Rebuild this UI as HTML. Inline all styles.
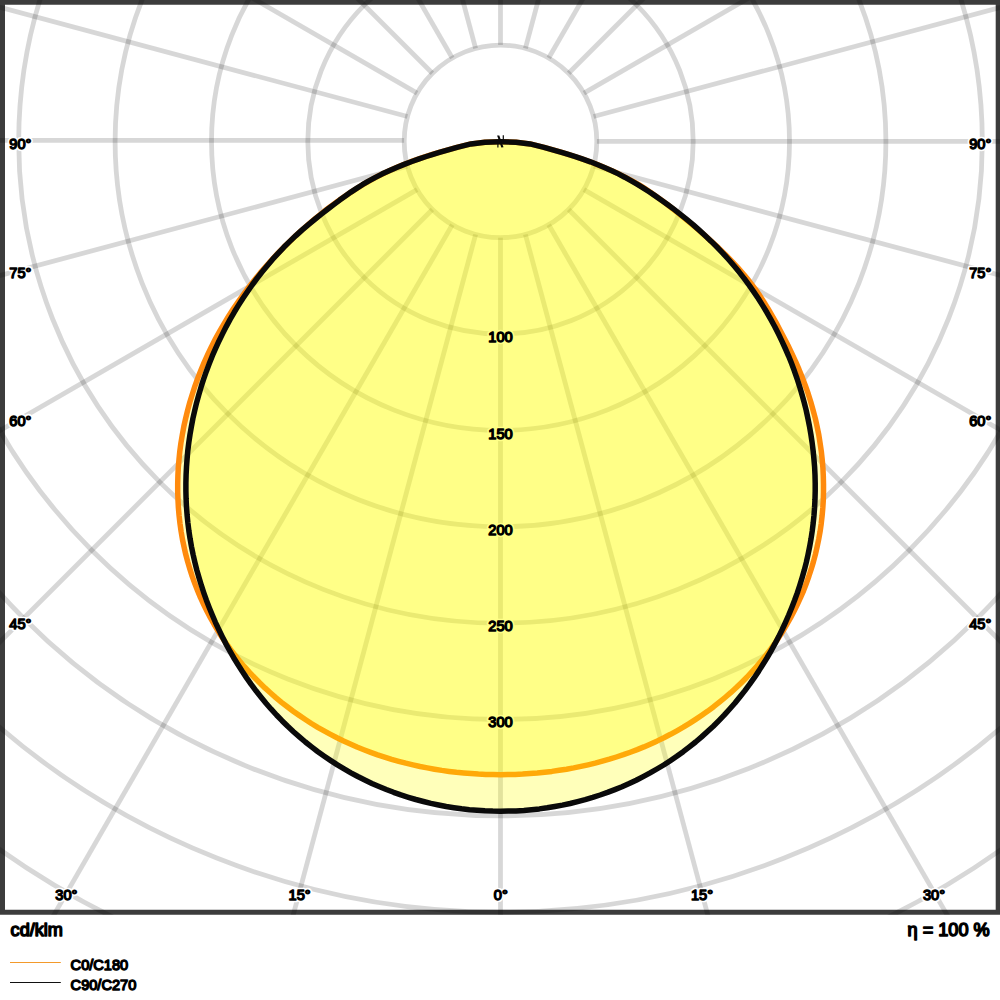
<!DOCTYPE html>
<html><head><meta charset="utf-8"><title>Polar</title>
<style>
html,body{margin:0;padding:0;background:#fff;}
body{width:1000px;height:1000px;overflow:hidden;font-family:"Liberation Sans",sans-serif;}
svg{display:block}
text{font-family:"Liberation Sans",sans-serif}
g.txt text{fill:#000;stroke:#000;stroke-linejoin:round}
g.txt .a text{stroke-width:1.35}
g.txt .b text{stroke-width:1.5}
g.halo text{fill:#fff;stroke:#fff;stroke-linejoin:round;stroke-width:4.6}
.g circle,.g line{fill:none;stroke:#000;stroke-opacity:0.155;stroke-width:4.8}
</style></head><body>
<svg width="1000" height="1000" viewBox="0 0 1000 1000">
<defs><clipPath id="c"><rect x="0" y="0" width="1000" height="914.8"/></clipPath></defs>
<rect width="1000" height="1000" fill="#fff"/>
<path d="M0,0H1000V914.8H0Z M5,4.7V909.8H995.7V4.7Z" fill="#3c3c3c" fill-rule="evenodd"/>
<g clip-path="url(#c)">
<g class="g">
<circle cx="500.5" cy="141.4" r="96.3"/>
<circle cx="500.5" cy="141.4" r="192.7"/>
<circle cx="500.5" cy="141.4" r="289.0"/>
<circle cx="500.5" cy="141.4" r="385.4"/>
<circle cx="500.5" cy="141.4" r="481.8"/>
<circle cx="500.5" cy="141.4" r="578.1"/>
<circle cx="500.5" cy="141.4" r="674.4"/>
<circle cx="500.5" cy="141.4" r="770.8"/>
<circle cx="500.5" cy="141.4" r="867.1"/>
<circle cx="500.5" cy="141.4" r="963.5"/>
<line x1="500.5" y1="237.8" x2="500.5" y2="1241.4"/>
<line x1="525.4" y1="234.5" x2="785.2" y2="1203.9"/>
<line x1="548.7" y1="224.8" x2="1050.5" y2="1094.0"/>
<line x1="568.6" y1="209.5" x2="1278.3" y2="919.2"/>
<line x1="583.9" y1="189.6" x2="1453.1" y2="691.4"/>
<line x1="593.6" y1="166.3" x2="1563.0" y2="426.1"/>
<line x1="596.9" y1="141.4" x2="1600.5" y2="141.4"/>
<line x1="593.6" y1="116.5" x2="1563.0" y2="-143.3"/>
<line x1="583.9" y1="93.2" x2="1453.1" y2="-408.6"/>
<line x1="568.6" y1="73.3" x2="1278.3" y2="-636.4"/>
<line x1="548.7" y1="58.0" x2="1050.5" y2="-811.2"/>
<line x1="525.4" y1="48.3" x2="785.2" y2="-921.1"/>
<line x1="500.5" y1="45.1" x2="500.5" y2="-958.6"/>
<line x1="475.6" y1="48.3" x2="215.8" y2="-921.1"/>
<line x1="452.3" y1="58.0" x2="-49.5" y2="-811.2"/>
<line x1="432.4" y1="73.3" x2="-277.3" y2="-636.4"/>
<line x1="417.1" y1="93.2" x2="-452.1" y2="-408.6"/>
<line x1="407.4" y1="116.5" x2="-562.0" y2="-143.3"/>
<line x1="404.1" y1="140.4" x2="-599.5" y2="140.4"/>
<line x1="407.4" y1="166.3" x2="-562.0" y2="426.1"/>
<line x1="417.1" y1="189.6" x2="-452.1" y2="691.4"/>
<line x1="432.4" y1="209.5" x2="-277.3" y2="919.2"/>
<line x1="452.3" y1="224.8" x2="-49.5" y2="1094.0"/>
<line x1="475.6" y1="234.5" x2="215.8" y2="1203.9"/>
</g>
<g class="halo">
<g class="a"><text x="9.3" y="149.2" text-anchor="start" font-size="14.6">90°</text></g>
<g class="a"><text x="991.3" y="149.2" text-anchor="end" font-size="14.6">90°</text></g>
<g class="a"><text x="9.3" y="278.2" text-anchor="start" font-size="14.6">75°</text></g>
<g class="a"><text x="991.3" y="278.2" text-anchor="end" font-size="14.6">75°</text></g>
<g class="a"><text x="9.3" y="426.2" text-anchor="start" font-size="14.6">60°</text></g>
<g class="a"><text x="991.3" y="426.2" text-anchor="end" font-size="14.6">60°</text></g>
<g class="a"><text x="9.3" y="629.2" text-anchor="start" font-size="14.6">45°</text></g>
<g class="a"><text x="991.3" y="629.2" text-anchor="end" font-size="14.6">45°</text></g>
<g class="a"><text x="66.4" y="900.3" text-anchor="middle" font-size="14.6">30°</text></g>
<g class="a"><text x="299.6" y="900.3" text-anchor="middle" font-size="14.6">15°</text></g>
<g class="a"><text x="500.8" y="900.3" text-anchor="middle" font-size="14.6">0°</text></g>
<g class="a"><text x="702" y="900.3" text-anchor="middle" font-size="14.6">15°</text></g>
<g class="a"><text x="934" y="900.3" text-anchor="middle" font-size="14.6">30°</text></g>
<g class="a"><text x="500.5" y="342.4" text-anchor="middle" font-size="14.6">100</text></g>
<g class="a"><text x="500.5" y="438.7" text-anchor="middle" font-size="14.6">150</text></g>
<g class="a"><text x="500.5" y="535.0" text-anchor="middle" font-size="14.6">200</text></g>
<g class="a"><text x="500.5" y="631.4" text-anchor="middle" font-size="14.6">250</text></g>
<g class="a"><text x="500.5" y="727.4" text-anchor="middle" font-size="14.6">300</text></g>
</g>
<path d="M500.6,141.7L516.0,142.2L530.0,143.9L544.0,147.3L561.6,152.4L568.0,154.3L574.8,156.5L581.9,158.9L589.2,161.5L596.8,164.4L604.4,167.5L611.9,170.7L619.1,174.1L626.0,177.6L632.5,181.1L638.7,184.7L644.6,188.4L650.4,192.2L656.0,196.2L661.6,200.3L667.3,204.5L673.0,209.0L678.9,213.7L685.0,218.7L691.4,223.9L698.0,229.5L704.8,235.4L711.6,241.6L718.5,247.9L725.2,254.4L731.7,261.1L738.0,267.9L744.0,274.7L749.6,281.6L754.7,288.4L759.5,295.2L763.9,302.0L768.2,308.9L772.2,315.8L776.2,322.9L780.1,330.2L784.0,337.7L787.9,345.3L791.7,353.2L795.4,361.1L798.9,369.2L802.2,377.4L805.3,385.5L808.2,393.7L810.8,402.0L813.1,410.2L815.3,418.4L817.1,426.7L818.8,434.9L820.1,443.2L821.3,451.4L822.2,459.6L822.9,467.8L823.3,475.9L823.5,484.0L823.5,492.1L823.3,500.1L822.8,508.0L822.1,515.9L821.2,523.8L820.1,531.6L818.7,539.3L817.1,546.9L815.4,554.4L813.4,561.9L811.2,569.2L808.8,576.5L806.2,583.7L803.5,590.8L800.5,597.7L797.3,604.6L794.0,611.3L790.5,618.0L786.8,624.5L783.0,630.9L779.0,637.1L774.8,643.3L770.5,649.3L766.0,655.2L761.3,661.0L756.6,666.6L751.6,672.1L746.6,677.5L741.4,682.7L736.1,687.8L730.7,692.7L725.1,697.5L719.4,702.2L713.7,706.7L707.8,711.1L701.8,715.3L695.7,719.4L689.5,723.4L683.3,727.2L676.9,730.8L670.5,734.3L663.9,737.7L657.3,740.9L650.7,743.9L643.9,746.9L637.2,749.6L630.3,752.2L623.4,754.7L616.4,757.0L609.4,759.2L602.3,761.2L595.2,763.1L588.1,764.8L580.9,766.4L573.7,767.9L566.5,769.2L559.2,770.3L551.9,771.4L544.6,772.2L537.3,773.0L529.9,773.6L522.6,774.1L515.2,774.4L507.9,774.6L500.5,774.7L493.1,774.6L485.8,774.4L478.4,774.1L471.1,773.6L463.7,773.0L456.4,772.3L449.1,771.4L441.8,770.4L434.5,769.2L427.3,767.9L420.1,766.5L412.9,764.9L405.8,763.2L398.7,761.3L391.6,759.3L384.6,757.1L377.6,754.8L370.7,752.3L363.8,749.7L357.0,747.0L350.3,744.0L343.6,741.0L337.0,737.8L330.5,734.4L324.1,730.9L317.7,727.3L311.4,723.5L305.3,719.5L299.2,715.4L293.2,711.2L287.3,706.8L281.5,702.3L275.8,697.6L270.3,692.8L264.9,687.9L259.6,682.8L254.4,677.5L249.3,672.2L244.4,666.7L239.6,661.0L235.0,655.2L230.5,649.3L226.2,643.3L222.0,637.2L218.0,630.9L214.2,624.5L210.5,617.9L207.0,611.3L203.7,604.5L200.5,597.7L197.6,590.7L194.8,583.6L192.2,576.4L189.9,569.1L187.7,561.8L185.7,554.3L184.0,546.7L182.4,539.1L181.1,531.4L180.0,523.6L179.1,515.7L178.4,507.8L178.0,499.8L177.7,491.8L177.7,483.8L177.9,475.7L178.3,467.5L179.0,459.4L179.8,451.3L180.9,443.1L182.3,434.9L183.8,426.7L185.6,418.6L187.6,410.4L189.8,402.3L192.3,394.2L194.9,386.1L197.8,378.1L201.0,370.1L204.3,362.1L207.9,354.2L211.6,346.4L215.6,338.6L219.9,330.9L224.3,323.3L228.9,315.7L233.7,308.3L238.7,301.0L243.9,293.8L249.2,286.7L254.7,279.7L260.3,272.9L266.0,266.3L271.8,259.8L277.7,253.5L283.7,247.3L289.8,241.4L295.9,235.6L302.0,230.0L308.2,224.6L314.3,219.4L320.5,214.3L326.6,209.5L332.7,204.9L338.8,200.4L344.9,196.2L351.0,192.1L357.1,188.2L363.2,184.4L369.4,180.8L375.8,177.3L382.4,174.0L389.3,170.7L396.4,167.6L403.7,164.6L411.0,161.7L418.3,159.1L425.5,156.6L432.5,154.4L439.2,152.4L457.0,147.3L471.0,143.9L485.0,142.2L500.4,141.7Z" fill="#ffff00" fill-opacity="0.27" stroke="none"/>
<path d="M500.6,141.7L516.0,142.2L530.0,143.9L544.0,147.3L561.6,152.4L568.0,154.3L574.8,156.5L581.9,158.9L589.2,161.5L596.8,164.4L604.4,167.5L611.9,170.7L619.1,174.1L626.0,177.6L632.5,181.1L638.7,184.7L644.6,188.4L650.4,192.2L656.0,196.2L661.6,200.3L667.3,204.5L673.0,209.0L678.9,213.7L685.0,218.7L691.4,223.9L698.0,229.5L704.8,235.4L711.6,241.6L718.5,247.9L725.2,254.4L731.7,261.1L738.0,267.9L744.0,274.7L749.6,281.6L754.7,288.4L759.5,295.2L763.9,302.0L768.2,308.9L772.2,315.8L776.2,322.9L780.1,330.2L784.0,337.7L787.9,345.3L791.7,353.2L795.4,361.1L798.9,369.2L802.2,377.4L805.3,385.5L808.2,393.7L810.8,402.0L813.1,410.2L815.3,418.4L817.1,426.7L818.8,434.9L820.1,443.2L821.3,451.4L822.2,459.6L822.9,467.8L823.3,475.9L823.5,484.0L823.5,492.1L823.3,500.1L822.8,508.0L822.1,515.9L821.2,523.8L820.1,531.6L818.7,539.3L817.1,546.9L815.4,554.4L813.4,561.9L811.2,569.2L808.8,576.5L806.2,583.7L803.5,590.8L800.5,597.7L797.3,604.6L794.0,611.3L790.5,618.0L786.8,624.5L783.0,630.9L779.0,637.1L774.8,643.3L770.5,649.3L766.0,655.2L761.3,661.0L756.6,666.6L751.6,672.1L746.6,677.5L741.4,682.7L736.1,687.8L730.7,692.7L725.1,697.5L719.4,702.2L713.7,706.7L707.8,711.1L701.8,715.3L695.7,719.4L689.5,723.4L683.3,727.2L676.9,730.8L670.5,734.3L663.9,737.7L657.3,740.9L650.7,743.9L643.9,746.9L637.2,749.6L630.3,752.2L623.4,754.7L616.4,757.0L609.4,759.2L602.3,761.2L595.2,763.1L588.1,764.8L580.9,766.4L573.7,767.9L566.5,769.2L559.2,770.3L551.9,771.4L544.6,772.2L537.3,773.0L529.9,773.6L522.6,774.1L515.2,774.4L507.9,774.6L500.5,774.7L493.1,774.6L485.8,774.4L478.4,774.1L471.1,773.6L463.7,773.0L456.4,772.3L449.1,771.4L441.8,770.4L434.5,769.2L427.3,767.9L420.1,766.5L412.9,764.9L405.8,763.2L398.7,761.3L391.6,759.3L384.6,757.1L377.6,754.8L370.7,752.3L363.8,749.7L357.0,747.0L350.3,744.0L343.6,741.0L337.0,737.8L330.5,734.4L324.1,730.9L317.7,727.3L311.4,723.5L305.3,719.5L299.2,715.4L293.2,711.2L287.3,706.8L281.5,702.3L275.8,697.6L270.3,692.8L264.9,687.9L259.6,682.8L254.4,677.5L249.3,672.2L244.4,666.7L239.6,661.0L235.0,655.2L230.5,649.3L226.2,643.3L222.0,637.2L218.0,630.9L214.2,624.5L210.5,617.9L207.0,611.3L203.7,604.5L200.5,597.7L197.6,590.7L194.8,583.6L192.2,576.4L189.9,569.1L187.7,561.8L185.7,554.3L184.0,546.7L182.4,539.1L181.1,531.4L180.0,523.6L179.1,515.7L178.4,507.8L178.0,499.8L177.7,491.8L177.7,483.8L177.9,475.7L178.3,467.5L179.0,459.4L179.8,451.3L180.9,443.1L182.3,434.9L183.8,426.7L185.6,418.6L187.6,410.4L189.8,402.3L192.3,394.2L194.9,386.1L197.8,378.1L201.0,370.1L204.3,362.1L207.9,354.2L211.6,346.4L215.6,338.6L219.9,330.9L224.3,323.3L228.9,315.7L233.7,308.3L238.7,301.0L243.9,293.8L249.2,286.7L254.7,279.7L260.3,272.9L266.0,266.3L271.8,259.8L277.7,253.5L283.7,247.3L289.8,241.4L295.9,235.6L302.0,230.0L308.2,224.6L314.3,219.4L320.5,214.3L326.6,209.5L332.7,204.9L338.8,200.4L344.9,196.2L351.0,192.1L357.1,188.2L363.2,184.4L369.4,180.8L375.8,177.3L382.4,174.0L389.3,170.7L396.4,167.6L403.7,164.6L411.0,161.7L418.3,159.1L425.5,156.6L432.5,154.4L439.2,152.4L457.0,147.3L471.0,143.9L485.0,142.2L500.4,141.7Z" fill="none" stroke="#ff8a0d" stroke-width="5.5" stroke-linejoin="round"/>
<path d="M500.6,141.7L516.0,142.2L530.0,143.9L544.0,147.3L561.6,152.4L568.3,154.4L575.4,156.6L582.8,159.1L590.4,161.8L597.8,164.7L605.0,167.7L611.8,170.7L618.4,173.9L624.7,177.2L630.9,180.7L637.0,184.2L643.1,187.9L649.2,191.8L655.3,195.9L661.5,200.2L667.8,204.7L674.1,209.4L680.4,214.3L686.7,219.4L693.0,224.6L699.2,230.1L705.3,235.7L711.3,241.4L717.2,247.3L723.0,253.3L728.6,259.5L734.0,265.8L739.2,272.1L744.3,278.6L749.1,285.1L753.8,291.8L758.3,298.5L762.6,305.4L766.8,312.3L770.8,319.4L774.7,326.5L778.4,333.8L781.9,341.1L785.3,348.5L788.6,356.1L791.6,363.6L794.5,371.3L797.2,379.0L799.7,386.8L802.0,394.6L804.2,402.5L806.2,410.4L807.9,418.4L809.5,426.4L810.9,434.5L812.1,442.5L813.1,450.6L813.9,458.7L814.6,466.8L815.0,474.9L815.2,483.0L815.2,491.1L815.0,499.2L814.6,507.2L814.0,515.2L813.2,523.2L812.2,531.2L811.0,539.1L809.6,546.9L808.0,554.7L806.3,562.4L804.3,570.1L802.1,577.8L799.8,585.3L797.3,592.9L794.6,600.3L791.7,607.7L788.7,615.0L785.5,622.3L782.2,629.5L778.7,636.6L775.0,643.7L771.2,650.6L767.2,657.5L763.0,664.3L758.7,671.1L754.3,677.7L749.7,684.2L744.9,690.6L740.0,696.8L735.0,703.0L729.7,709.0L724.4,714.9L718.9,720.6L713.3,726.2L707.5,731.6L701.6,736.9L695.6,742.0L689.4,746.9L683.2,751.7L676.8,756.3L670.3,760.7L663.7,765.0L656.9,769.0L650.1,772.9L643.2,776.6L636.2,780.2L629.2,783.5L622.0,786.7L614.8,789.6L607.5,792.4L600.1,795.0L592.7,797.4L585.2,799.6L577.6,801.6L570.1,803.5L562.4,805.1L554.8,806.5L547.1,807.8L539.4,808.9L531.6,809.7L523.9,810.4L516.1,810.9L508.3,811.1L500.5,811.2L492.7,811.1L484.9,810.8L477.1,810.3L469.4,809.7L461.6,808.8L453.9,807.7L446.2,806.5L438.6,805.0L430.9,803.4L423.4,801.5L415.8,799.5L408.4,797.3L400.9,794.9L393.6,792.3L386.3,789.5L379.0,786.5L371.9,783.4L364.8,780.0L357.8,776.5L350.9,772.8L344.1,768.9L337.4,764.9L330.8,760.6L324.3,756.2L317.9,751.7L311.6,746.9L305.4,742.0L299.4,736.9L293.5,731.7L287.7,726.3L282.0,720.7L276.5,715.0L271.2,709.2L266.0,703.2L260.9,697.0L256.0,690.8L251.2,684.4L246.6,677.9L242.2,671.3L237.9,664.5L233.7,657.7L229.8,650.8L225.9,643.8L222.3,636.7L218.8,629.5L215.4,622.3L212.3,615.0L209.3,607.7L206.4,600.2L203.8,592.8L201.3,585.2L199.0,577.6L196.8,570.0L194.9,562.3L193.1,554.5L191.5,546.7L190.1,538.8L188.9,531.0L187.9,523.0L187.1,515.1L186.5,507.1L186.1,499.0L185.9,491.0L185.9,482.9L186.1,474.9L186.5,466.8L187.1,458.7L187.8,450.6L188.8,442.6L190.0,434.5L191.4,426.5L192.9,418.5L194.7,410.6L196.6,402.7L198.8,394.8L201.1,386.9L203.6,379.2L206.3,371.4L209.2,363.8L212.2,356.2L215.5,348.7L218.9,341.2L222.5,333.9L226.2,326.6L230.1,319.4L234.2,312.3L238.4,305.4L242.8,298.5L247.4,291.7L252.1,285.0L256.9,278.5L262.0,272.0L267.2,265.7L272.5,259.4L278.1,253.3L283.8,247.3L289.8,241.4L295.9,235.6L302.2,229.9L308.7,224.3L315.2,219.0L321.6,213.9L327.9,209.0L334.0,204.4L339.7,200.1L345.4,196.0L350.9,192.1L356.6,188.4L362.4,184.7L368.5,181.1L375.0,177.6L381.9,174.1L389.1,170.8L396.6,167.5L404.2,164.4L411.8,161.5L419.1,158.9L426.2,156.5L433.0,154.3L439.4,152.4L457.0,147.3L471.0,143.9L485.0,142.2L500.4,141.7Z" fill="#ffff00" fill-opacity="0.27" stroke="none"/>
<path d="M500.6,141.7L516.0,142.2L530.0,143.9L544.0,147.3L561.6,152.4L568.3,154.4L575.4,156.6L582.8,159.1L590.4,161.8L597.8,164.7L605.0,167.7L611.8,170.7L618.4,173.9L624.7,177.2L630.9,180.7L637.0,184.2L643.1,187.9L649.2,191.8L655.3,195.9L661.5,200.2L667.8,204.7L674.1,209.4L680.4,214.3L686.7,219.4L693.0,224.6L699.2,230.1L705.3,235.7L711.3,241.4L717.2,247.3L723.0,253.3L728.6,259.5L734.0,265.8L739.2,272.1L744.3,278.6L749.1,285.1L753.8,291.8L758.3,298.5L762.6,305.4L766.8,312.3L770.8,319.4L774.7,326.5L778.4,333.8L781.9,341.1L785.3,348.5L788.6,356.1L791.6,363.6L794.5,371.3L797.2,379.0L799.7,386.8L802.0,394.6L804.2,402.5L806.2,410.4L807.9,418.4L809.5,426.4L810.9,434.5L812.1,442.5L813.1,450.6L813.9,458.7L814.6,466.8L815.0,474.9L815.2,483.0L815.2,491.1L815.0,499.2L814.6,507.2L814.0,515.2L813.2,523.2L812.2,531.2L811.0,539.1L809.6,546.9L808.0,554.7L806.3,562.4L804.3,570.1L802.1,577.8L799.8,585.3L797.3,592.9L794.6,600.3L791.7,607.7L788.7,615.0L785.5,622.3L782.2,629.5L778.7,636.6L775.0,643.7L771.2,650.6L767.2,657.5L763.0,664.3L758.7,671.1L754.3,677.7L749.7,684.2L744.9,690.6L740.0,696.8L735.0,703.0L729.7,709.0L724.4,714.9L718.9,720.6L713.3,726.2L707.5,731.6L701.6,736.9L695.6,742.0L689.4,746.9L683.2,751.7L676.8,756.3L670.3,760.7L663.7,765.0L656.9,769.0L650.1,772.9L643.2,776.6L636.2,780.2L629.2,783.5L622.0,786.7L614.8,789.6L607.5,792.4L600.1,795.0L592.7,797.4L585.2,799.6L577.6,801.6L570.1,803.5L562.4,805.1L554.8,806.5L547.1,807.8L539.4,808.9L531.6,809.7L523.9,810.4L516.1,810.9L508.3,811.1L500.5,811.2L492.7,811.1L484.9,810.8L477.1,810.3L469.4,809.7L461.6,808.8L453.9,807.7L446.2,806.5L438.6,805.0L430.9,803.4L423.4,801.5L415.8,799.5L408.4,797.3L400.9,794.9L393.6,792.3L386.3,789.5L379.0,786.5L371.9,783.4L364.8,780.0L357.8,776.5L350.9,772.8L344.1,768.9L337.4,764.9L330.8,760.6L324.3,756.2L317.9,751.7L311.6,746.9L305.4,742.0L299.4,736.9L293.5,731.7L287.7,726.3L282.0,720.7L276.5,715.0L271.2,709.2L266.0,703.2L260.9,697.0L256.0,690.8L251.2,684.4L246.6,677.9L242.2,671.3L237.9,664.5L233.7,657.7L229.8,650.8L225.9,643.8L222.3,636.7L218.8,629.5L215.4,622.3L212.3,615.0L209.3,607.7L206.4,600.2L203.8,592.8L201.3,585.2L199.0,577.6L196.8,570.0L194.9,562.3L193.1,554.5L191.5,546.7L190.1,538.8L188.9,531.0L187.9,523.0L187.1,515.1L186.5,507.1L186.1,499.0L185.9,491.0L185.9,482.9L186.1,474.9L186.5,466.8L187.1,458.7L187.8,450.6L188.8,442.6L190.0,434.5L191.4,426.5L192.9,418.5L194.7,410.6L196.6,402.7L198.8,394.8L201.1,386.9L203.6,379.2L206.3,371.4L209.2,363.8L212.2,356.2L215.5,348.7L218.9,341.2L222.5,333.9L226.2,326.6L230.1,319.4L234.2,312.3L238.4,305.4L242.8,298.5L247.4,291.7L252.1,285.0L256.9,278.5L262.0,272.0L267.2,265.7L272.5,259.4L278.1,253.3L283.8,247.3L289.8,241.4L295.9,235.6L302.2,229.9L308.7,224.3L315.2,219.0L321.6,213.9L327.9,209.0L334.0,204.4L339.7,200.1L345.4,196.0L350.9,192.1L356.6,188.4L362.4,184.7L368.5,181.1L375.0,177.6L381.9,174.1L389.1,170.8L396.6,167.5L404.2,164.4L411.8,161.5L419.1,158.9L426.2,156.5L433.0,154.3L439.4,152.4L457.0,147.3L471.0,143.9L485.0,142.2L500.4,141.7Z" fill="none" stroke="#0a0a0a" stroke-width="5.5" stroke-linejoin="round"/>
<path d="M497.1,135.4L499.3,135.6L503.5,147.2L501.3,147.6Z" fill="#0a0a0a"/>
<path d="M503.3,135.29999999999998V140.6M497.90000000000003,142.6V147.6" fill="none" stroke="#0a0a0a" stroke-width="1.2"/>
</g>
<g class="txt">
<g class="a"><text x="9.3" y="149.2" text-anchor="start" font-size="14.6">90°</text></g>
<g class="a"><text x="991.3" y="149.2" text-anchor="end" font-size="14.6">90°</text></g>
<g class="a"><text x="9.3" y="278.2" text-anchor="start" font-size="14.6">75°</text></g>
<g class="a"><text x="991.3" y="278.2" text-anchor="end" font-size="14.6">75°</text></g>
<g class="a"><text x="9.3" y="426.2" text-anchor="start" font-size="14.6">60°</text></g>
<g class="a"><text x="991.3" y="426.2" text-anchor="end" font-size="14.6">60°</text></g>
<g class="a"><text x="9.3" y="629.2" text-anchor="start" font-size="14.6">45°</text></g>
<g class="a"><text x="991.3" y="629.2" text-anchor="end" font-size="14.6">45°</text></g>
<g class="a"><text x="66.4" y="900.3" text-anchor="middle" font-size="14.6">30°</text></g>
<g class="a"><text x="299.6" y="900.3" text-anchor="middle" font-size="14.6">15°</text></g>
<g class="a"><text x="500.8" y="900.3" text-anchor="middle" font-size="14.6">0°</text></g>
<g class="a"><text x="702" y="900.3" text-anchor="middle" font-size="14.6">15°</text></g>
<g class="a"><text x="934" y="900.3" text-anchor="middle" font-size="14.6">30°</text></g>
<g class="a"><text x="500.5" y="342.4" text-anchor="middle" font-size="14.6">100</text></g>
<g class="a"><text x="500.5" y="438.7" text-anchor="middle" font-size="14.6">150</text></g>
<g class="a"><text x="500.5" y="535.0" text-anchor="middle" font-size="14.6">200</text></g>
<g class="a"><text x="500.5" y="631.4" text-anchor="middle" font-size="14.6">250</text></g>
<g class="a"><text x="500.5" y="727.4" text-anchor="middle" font-size="14.6">300</text></g>
<g class="b"><text x="10.6" y="936.0" text-anchor="start" font-size="18.1">cd/klm</text></g>
<g class="b"><text x="989.6" y="936.0" text-anchor="end" font-size="18.1">η = 100 %</text></g>
<rect x="10" y="962" width="50.8" height="1" fill="#f39a2b" stroke="none"/>
<rect x="10" y="982" width="50.8" height="1" fill="#111" stroke="none"/>
<g class="a"><text x="70.6" y="969.8" text-anchor="start" font-size="14.6">C0/C180</text></g>
<g class="a"><text x="70.6" y="989.9" text-anchor="start" font-size="14.6">C90/C270</text></g>
</g>
</svg>
</body></html>
